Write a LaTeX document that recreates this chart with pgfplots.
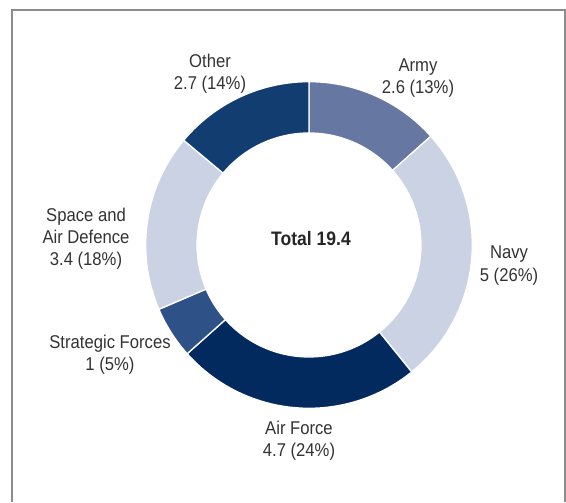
\documentclass[border=0pt]{standalone}
\usepackage{pgfplots}
\pgfplotsset{compat=1.18}
\usepackage{fontspec}
\setmainfont{Liberation Sans}[FakeStretch=0.9]
\definecolor{army}{HTML}{6677A2}
\definecolor{navy}{HTML}{CBD2E3}
\definecolor{airforce}{HTML}{022A5E}
\definecolor{strategic}{HTML}{2E5188}
\definecolor{space}{HTML}{CBD2E3}
\definecolor{other}{HTML}{123D70}
\definecolor{labgray}{HTML}{333333}
\definecolor{framegray}{HTML}{8C8C8C}
% one annular sector from angle #1 to angle #2 (degrees), colour #3
\newcommand\ringwedge[3]{%
  \addplot[fill=#3, draw=white, line width=1.3pt, line join=round, domain=0:4, samples=161]
  ({309+(163.3-51.3*min(max(x-1,0),1)+51.3*min(max(x-3,0),1))*cos((#1)+((#2)-(#1))*min(max(x,0),1)-((#2)-(#1))*min(max(x-2,0),1))},
   {257+(163.3-51.3*min(max(x-1,0),1)+51.3*min(max(x-3,0),1))*sin((#1)+((#2)-(#1))*min(max(x,0),1)-((#2)-(#1))*min(max(x-2,0),1))});
}
\begin{document}
\begin{tikzpicture}
% values: Army 2.6, Navy 5, Air Force 4.7, Strategic Forces 1, Space and Air Defence 3.4, Other 2.7
\pgfmathsetmacro\tot{2.6+5+4.7+1+3.4+2.7}
\pgfmathsetmacro\angA{90}
\pgfmathsetmacro\angB{90-360*(2.6)/\tot}
\pgfmathsetmacro\angC{90-360*(2.6+5)/\tot}
\pgfmathsetmacro\angD{90-360*(2.6+5+4.7)/\tot}
\pgfmathsetmacro\angE{90-360*(2.6+5+4.7+1)/\tot}
\pgfmathsetmacro\angF{90-360*(2.6+5+4.7+1+3.4)/\tot}
\pgfmathsetmacro\angG{90-360*(2.6+5+4.7+1+3.4+2.7)/\tot}
\begin{axis}[scale only axis, width=566pt, height=502pt,
  xmin=0, xmax=566, ymin=0, ymax=502, hide axis, clip=false]
\path (axis cs:0,0) rectangle (axis cs:566,502);
\draw[framegray, line width=1.5pt] (axis cs:12,0) -- (axis cs:12,492) -- (axis cs:564.8,492) -- (axis cs:564.8,0);
\ringwedge{\angA}{\angB}{army}
\ringwedge{\angB}{\angC}{navy}
\ringwedge{\angC}{\angD}{airforce}
\ringwedge{\angD}{\angE}{strategic}
\ringwedge{\angE}{\angF}{space}
\ringwedge{\angF}{\angG}{other}
\tikzset{lab/.style={anchor=base, text=labgray, inner sep=0pt, font=\fontsize{18.5}{22}\selectfont}}
\node[lab] at (axis cs:210,434) {Other};
\node[lab] at (axis cs:210,412) {2.7 (14\%)};
\node[lab] at (axis cs:418,430) {Army};
\node[lab] at (axis cs:418,408) {2.6 (13\%)};
\node[lab] at (axis cs:509,243) {Navy};
\node[lab] at (axis cs:509,220) {5 (26\%)};
\node[lab] at (axis cs:299,67) {Air Force};
\node[lab] at (axis cs:299,45) {4.7 (24\%)};
\node[lab] at (axis cs:110,153) {Strategic Forces};
\node[lab] at (axis cs:110,131) {1 (5\%)};
\node[lab] at (axis cs:86,280) {Space and};
\node[lab] at (axis cs:86,258) {Air Defence};
\node[lab] at (axis cs:86,236) {3.4 (18\%)};
\node[anchor=base, inner sep=0pt, text=black!85, font=\fontsize{19.5}{23}\selectfont\bfseries] at (axis cs:311,256) {Total 19.4};
\end{axis}
\end{tikzpicture}
\end{document}
